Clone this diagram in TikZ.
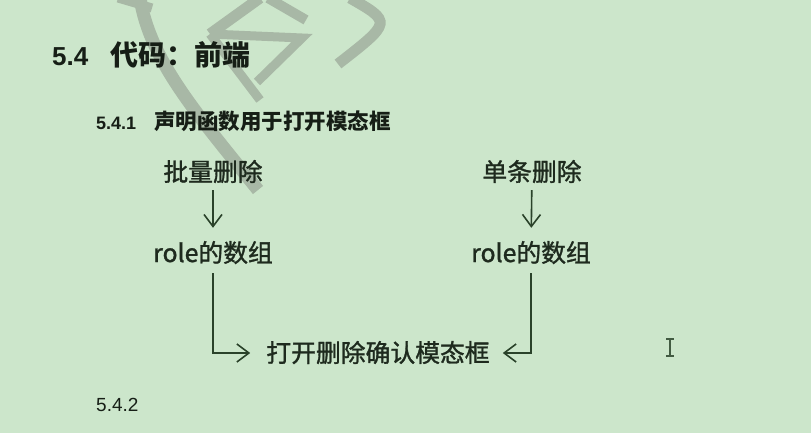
\documentclass[tikz,border=0pt]{standalone}
\usepackage{fontspec}
\setmainfont{Liberation Sans}
\newfontfamily\cjk{Noto Sans CJK SC}
\newfontfamily\cjkmid{Noto Sans CJK SC}[FakeBold=1.3]
\usetikzlibrary{arrows.meta}

\definecolor{sheetgreen}{RGB}{204,230,203}
\definecolor{ink}{RGB}{22,30,22}
\definecolor{itemink}{RGB}{30,42,30}
\definecolor{linegreen}{RGB}{42,66,42}
\definecolor{markgray}{RGB}{168,184,166}

\begin{document}
\begin{tikzpicture}[
    x=1pt, y=-1pt,
    head/.style={anchor=west, inner sep=0pt, text=ink, font=\bfseries\fontsize{26}{30}\selectfont},
    subhead/.style={anchor=west, inner sep=0pt, text=ink, font=\bfseries\fontsize{18}{22}\selectfont},
    item/.style={inner sep=0pt, text height=18pt, text depth=0pt, text=itemink, font=\cjkmid\fontsize{24.8}{28}\selectfont},
    flow/.style={-{Straight Barb[length=12pt, width=18pt]}, line width=1.6pt, color=linegreen},
    stroke/.style={line width=13pt, color=markgray}
]
\useasboundingbox (0,0) rectangle (811,433);
\fill[sheetgreen] (0,0) rectangle (811,433);

% --- watermark strokes ---
\draw[stroke, line width=9pt] (118,-2) -- (152,8);
\draw[stroke] (140,-2) .. controls (150,60) and (195,112) .. (258,190);
\draw[stroke, line width=11pt] (260,-2) -- (210,34);
\draw[stroke, line width=9pt] (210,34) -- (302,38) -- (257,82);
\draw[stroke, line width=9pt] (210,34) -- (260,100);
\draw[stroke, line width=10pt] (268,-2) -- (306,20);
\draw[stroke, line width=11pt] (350,-2) .. controls (392,22) .. (338,64);

% --- headings ---
\node[head] (title) at (52,55) {5.4\hspace{22pt}{\cjk\fontsize{28}{32}\selectfont 代码：前端}};
\node[subhead] (sub) at (96,121) {5.4.1\hspace{18pt}{\cjk\fontsize{21.5}{24}\selectfont 声明函数用于打开模态框}};

% --- flow ---
\node[item] (batch) at (213,172) {批量删除};
\node[item] (single) at (532,172) {单条删除};
\node[item] (roleL) at (213,253) {role的数组};
\node[item] (roleR) at (531,253) {role的数组};
\node[item] (open) at (378,353) {打开删除确认模态框};

\draw[flow, shorten <=9pt, shorten >=16pt] (batch) -- (roleL);
\draw[flow, shorten <=9pt, shorten >=16pt] (single) -- (roleR);
\draw[flow, shorten <=11pt, shorten >=16pt] (roleL.south) |- (open.west);
\draw[flow, shorten <=11pt, shorten >=13pt] (roleR.south) |- (open.east);

% --- next section ---
\node[anchor=west, inner sep=0pt, text=ink, font=\fontsize{19}{22}\selectfont] (next) at (96,405) {5.4.2};

% --- text cursor ---
\draw[line width=1.8pt, color=linegreen!85!sheetgreen] (670,339) -- (670,356)
    (666,339) -- (674,339) (666,356) -- (674,356);
\end{tikzpicture}
\end{document}
